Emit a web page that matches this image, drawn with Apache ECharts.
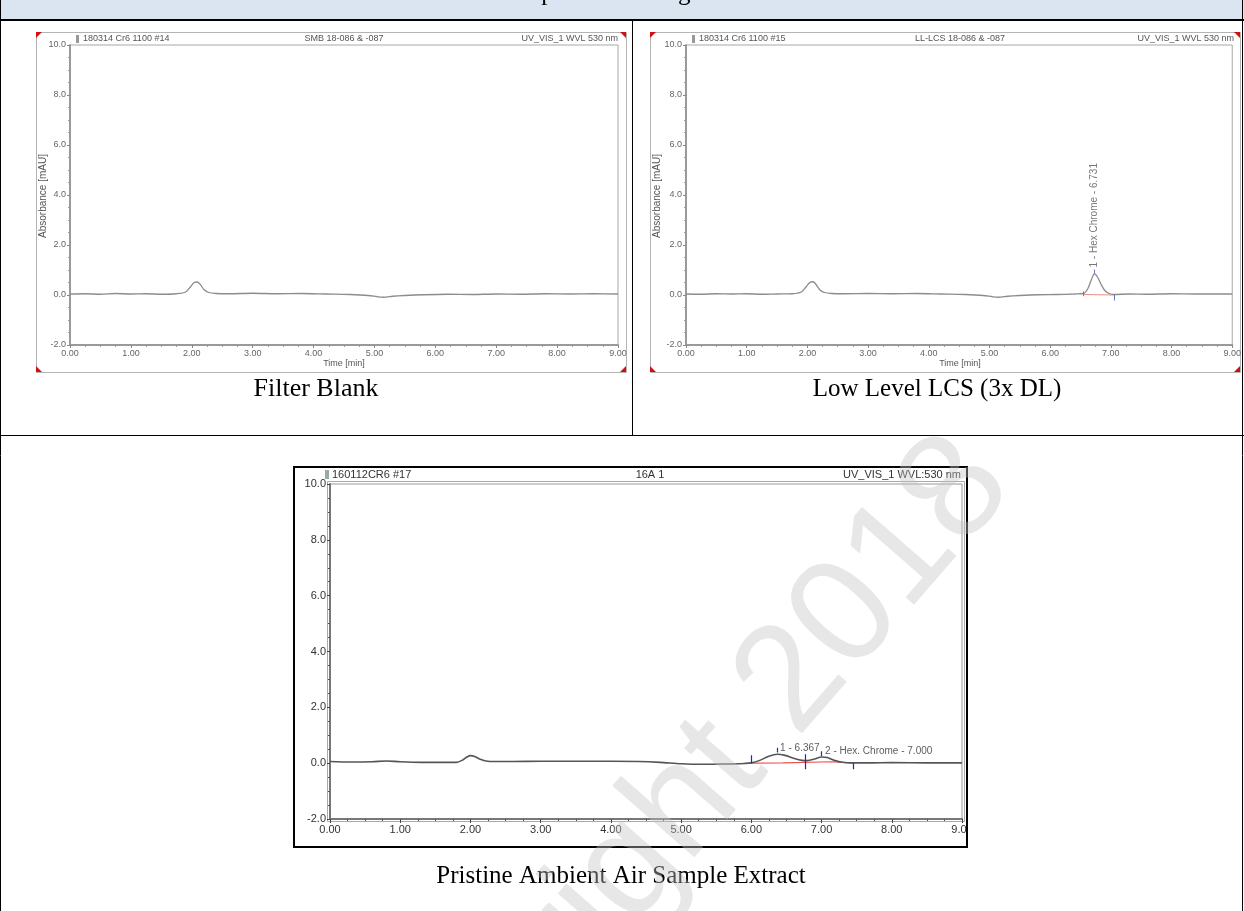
<!DOCTYPE html>
<html><head><meta charset="utf-8">
<script src="https://cdn.jsdelivr.net/npm/echarts@6/dist/echarts.min.js"></script>
<style>html,body{margin:0;padding:0;background:#fff}#c{width:1244px;height:911px}</style>
</head><body><div id="c"></div>
<script>
// ---------- data ----------
var timeTicks = [0,1,2,3,4,5,6,7,8,9];
var absTicks = [-2,0,2,4,6,8,10];

var blankTime = [0.00,0.25,0.50,0.75,1.00,1.25,1.50,1.75,1.90,1.98,2.04,2.09,2.14,2.20,2.28,2.40,2.60,3.00,3.40,3.80,4.20,4.60,4.90,5.05,5.15,5.30,5.50,5.80,6.20,6.60,7.00,7.40,7.80,8.20,8.60,9.00];
var blankAbs  = [0.04,0.05,0.03,0.06,0.04,0.05,0.03,0.05,0.12,0.33,0.50,0.52,0.42,0.22,0.10,0.06,0.05,0.07,0.05,0.06,0.04,0.02,-0.02,-0.07,-0.09,-0.05,-0.02,0.01,0.03,0.02,0.04,0.03,0.05,0.04,0.05,0.04];

var lcsTime = [0.00,0.25,0.50,0.75,1.00,1.25,1.50,1.75,1.90,1.98,2.04,2.09,2.14,2.20,2.28,2.40,2.60,3.00,3.40,3.80,4.20,4.60,4.90,5.05,5.15,5.30,5.50,5.80,6.10,6.40,6.55,6.62,6.68,6.73,6.78,6.84,6.90,6.97,7.05,7.30,7.60,8.00,8.40,8.80,9.00];
var lcsAbs  = [0.04,0.03,0.05,0.04,0.05,0.03,0.04,0.05,0.12,0.33,0.50,0.53,0.43,0.22,0.10,0.06,0.05,0.06,0.05,0.06,0.04,0.02,-0.02,-0.07,-0.09,-0.05,-0.02,0.01,0.02,0.04,0.06,0.25,0.62,0.85,0.72,0.42,0.18,0.06,0.02,0.04,0.03,0.05,0.04,0.04,0.04];
var lcsMarkTime = [6.55,6.73,7.05];
var lcsMarkLow  = [-0.05,0.88,-0.22];
var lcsMarkHigh = [0.15,1.02,0.00];
var lcsBaseTime = [6.55,7.05];
var lcsBaseAbs  = [0.02,0.00];
var lcsPeakName = '1 - Hex Chrome - 6.731';
var lcsPeakPos  = [6.731,1.10];

var sampleTime = [0.00,0.30,0.60,0.80,1.00,1.30,1.60,1.80,1.88,1.95,2.00,2.06,2.13,2.22,2.35,2.60,3.00,3.50,4.00,4.40,4.70,5.00,5.30,5.60,5.90,6.00,6.12,6.25,6.37,6.48,6.60,6.72,6.80,6.90,7.00,7.08,7.18,7.30,7.45,7.70,8.00,8.50,9.00];
var sampleAbs  = [0.06,0.04,0.05,0.08,0.05,0.03,0.03,0.03,0.10,0.22,0.27,0.24,0.15,0.08,0.06,0.06,0.07,0.07,0.07,0.06,0.03,-0.02,-0.04,-0.03,-0.01,0.01,0.10,0.25,0.32,0.28,0.18,0.10,0.09,0.15,0.22,0.20,0.10,0.03,0.01,0.01,0.02,0.01,0.01];
var sampleMarkTime = [6.00,6.37,6.77,7.00,7.45];
var sampleMarkLow  = [0.00,0.38,-0.22,0.26,-0.22];
var sampleMarkHigh = [0.28,0.55,0.32,0.43,0.00];
var sampleBaseTime = [6.00,6.45,6.45,7.15,7.15,7.45];
var sampleBaseAbs  = [0.00,0.01,0.05,0.05,0.01,0.00];
var samplePeakNames = ['1 - 6.367','2 - Hex. Chrome - 7.000'];
var samplePeakPos   = [[6.41,0.52],[7.05,0.42]];

var headers = [
  ['180314 Cr6 1100 #14','SMB 18-086 & -087','UV_VIS_1 WVL 530 nm'],
  ['180314 Cr6 1100 #15','LL-LCS 18-086 & -087','UV_VIS_1 WVL 530 nm'],
  ['160112CR6 #17','16A 1','UV_VIS_1 WVL:530 nm']
];
var captions = ['Filter Blank','Low Level LCS (3x DL)','Pristine Ambient Air Sample Extract'];
var tableTitle = 'Example Chromatograms';
var yTitle = 'Absorbance [mAU]';
var xTitle = 'Time [min]';
var watermark = 'Copyright 2018';

// ---------- helpers ----------
function pairs(a,b){return a.map(function(v,i){return [v,b[i]];});}
function segs(t,lo,hi){return t.map(function(v,i){return {coords:[[v,lo[i]],[v,hi[i]]]};});}

var grids = [
  {left:70, top:45, width:548, height:300},
  {left:686, top:45, width:548, height:300},
  {left:330, top:484, width:632, height:335}
];
var small = [true,true,false];

function xAx(i){
  var s = small[i];
  return {gridIndex:i, type:'value', min:timeTicks[0], max:timeTicks[timeTicks.length-1], interval:1,
    axisLine:{show:true, onZero:false, lineStyle:{color:s?'#9a9a9a':'#777', width:2}},
    axisTick:{show:true, length:s?3:4, lineStyle:{color:s?'#888':'#444'}},
    minorTick:{show:true, splitNumber:4, length:2, lineStyle:{color:s?'#999':'#555'}},
    splitLine:{show:false},
    axisLabel:{fontSize:s?9:11, color:s?'#666':'#333', fontFamily:'Liberation Sans', margin:s?4:5,
      formatter:function(v){return v.toFixed(2);}}};
}
function yAx(i){
  var s = small[i];
  return {gridIndex:i, type:'value', min:absTicks[0], max:absTicks[absTicks.length-1], interval:2,
    axisLine:{show:true, onZero:false, lineStyle:{color:s?'#9a9a9a':'#777', width:2}},
    axisTick:{show:true, length:3, lineStyle:{color:s?'#888':'#444'}},
    minorTick:{show:true, splitNumber:4, length:2, lineStyle:{color:s?'#999':'#555'}},
    splitLine:{show:false},
    axisLabel:{fontSize:s?9:11, color:s?'#666':'#333', fontFamily:'Liberation Sans', margin:4,
      formatter:function(v){return v.toFixed(1);}}};
}

var series = [
  {type:'line', xAxisIndex:0, yAxisIndex:0, data:pairs(blankTime,blankAbs), showSymbol:false, smooth:0.3,
    lineStyle:{color:'#8c8c8c', width:1.3}, z:3},
  {type:'line', xAxisIndex:1, yAxisIndex:1, data:pairs(lcsTime,lcsAbs), showSymbol:false, smooth:0.3,
    lineStyle:{color:'#8c8c8c', width:1.3}, z:3},
  {type:'line', xAxisIndex:1, yAxisIndex:1, data:pairs(lcsBaseTime,lcsBaseAbs), showSymbol:false,
    lineStyle:{color:'#f28b8b', width:1}, z:2},
  {type:'lines', coordinateSystem:'cartesian2d', xAxisIndex:1, yAxisIndex:1, data:segs(lcsMarkTime,lcsMarkLow,lcsMarkHigh),
    lineStyle:{color:'#7070d8', width:1, opacity:1}, z:4},
  {type:'scatter', xAxisIndex:1, yAxisIndex:1, data:[lcsPeakPos], symbolSize:0,
    label:{show:true, formatter:lcsPeakName, rotate:90, position:'inside', align:'left', verticalAlign:'middle',
      fontSize:10, color:'#555', fontFamily:'Liberation Sans'}, z:5},
  {type:'line', xAxisIndex:2, yAxisIndex:2, data:pairs(sampleTime,sampleAbs), showSymbol:false, smooth:0.3,
    lineStyle:{color:'#555', width:1.6}, z:3},
  {type:'line', xAxisIndex:2, yAxisIndex:2, data:pairs(sampleBaseTime,sampleBaseAbs), showSymbol:false,
    lineStyle:{color:'#f05050', width:1.2}, z:2},
  {type:'lines', coordinateSystem:'cartesian2d', xAxisIndex:2, yAxisIndex:2, data:segs(sampleMarkTime,sampleMarkLow,sampleMarkHigh),
    lineStyle:{color:'#2020e0', width:1.2, opacity:1}, z:4},
  {type:'scatter', xAxisIndex:2, yAxisIndex:2, symbolSize:0,
    data:samplePeakPos.map(function(p,i){return {value:p, name:samplePeakNames[i]};}),
    label:{show:true, formatter:'{b}', position:'inside', align:'left', verticalAlign:'middle',
      fontSize:10, color:'#333', fontFamily:'Liberation Sans'}, z:5}
];

// ---------- decorations ----------
var els = [];
// table
els.push({type:'rect', shape:{x:0,y:0,width:1244,height:19}, style:{fill:'#dbe5f1'}, z:0});
els.push({type:'text', x:611, y:-7, style:{text:tableTitle, font:'25px "Liberation Serif"', fill:'#000', textAlign:'center', textVerticalAlign:'middle'}, z:1});
els.push({type:'line', shape:{x1:0,y1:20,x2:1244,y2:20}, style:{stroke:'#000', lineWidth:2}});
els.push({type:'line', shape:{x1:0.5,y1:0,x2:0.5,y2:911}, style:{stroke:'#000', lineWidth:1}});
els.push({type:'line', shape:{x1:1242.5,y1:0,x2:1242.5,y2:911}, style:{stroke:'#000', lineWidth:1}});
els.push({type:'line', shape:{x1:632.5,y1:20,x2:632.5,y2:435}, style:{stroke:'#000', lineWidth:1}});
els.push({type:'line', shape:{x1:0,y1:435.5,x2:1244,y2:435.5}, style:{stroke:'#000', lineWidth:1}});
// top chart frames
[[36,32,590,340],[650,32,590,340]].forEach(function(f,k){
  var x=f[0], y=f[1], w=f[2], h=f[3];
  els.push({type:'rect', shape:{x:x+0.5,y:y+0.5,width:w,height:h}, style:{fill:'none', stroke:'#b4b4b4', lineWidth:1}});
  var c = 6;
  els.push({type:'polygon', shape:{points:[[x,y],[x+c,y],[x,y+c]]}, style:{fill:'#d01010'}});
  els.push({type:'polygon', shape:{points:[[x+w,y],[x+w-c,y],[x+w,y+c]]}, style:{fill:'#d01010'}});
  els.push({type:'polygon', shape:{points:[[x,y+h],[x+c,y+h],[x,y+h-c]]}, style:{fill:'#d01010'}});
  els.push({type:'polygon', shape:{points:[[x+w,y+h],[x+w-c,y+h],[x+w,y+h-c]]}, style:{fill:'#d01010'}});
  var g = grids[k];
  els.push({type:'rect', shape:{x:g.left+6,y:35,width:3,height:8}, style:{fill:'#999'}});
  els.push({type:'text', x:g.left+13, y:39, style:{text:headers[k][0], font:'9px "Liberation Sans"', fill:'#555', textAlign:'left', textVerticalAlign:'middle'}});
  els.push({type:'text', x:g.left+g.width/2, y:39, style:{text:headers[k][1], font:'9px "Liberation Sans"', fill:'#555', textAlign:'center', textVerticalAlign:'middle'}});
  els.push({type:'text', x:g.left+g.width, y:39, style:{text:headers[k][2], font:'9px "Liberation Sans"', fill:'#555', textAlign:'right', textVerticalAlign:'middle'}});
  els.push({type:'text', x:x+7, y:196, rotation:Math.PI/2, style:{text:yTitle, font:'10px "Liberation Sans"', fill:'#555', textAlign:'center', textVerticalAlign:'middle'}});
  els.push({type:'text', x:g.left+g.width/2, y:364, style:{text:xTitle, font:'9px "Liberation Sans"', fill:'#555', textAlign:'center', textVerticalAlign:'middle'}});
});
// bottom frame
els.push({type:'rect', shape:{x:327.5,y:481.5,width:637,height:340}, style:{fill:'none', stroke:'#aaa', lineWidth:1}});
els.push({type:'rect', shape:{x:968,y:820,width:20,height:28}, style:{fill:'#fff'}, z:50});
els.push({type:'rect', shape:{x:294,y:467,width:673,height:380}, style:{fill:'none', stroke:'#000', lineWidth:2}, z:51});
els.push({type:'rect', shape:{x:325,y:470,width:4,height:9}, style:{fill:'#9aa'}});
els.push({type:'text', x:332, y:475, style:{text:headers[2][0], font:'11px "Liberation Sans"', fill:'#333', textAlign:'left', textVerticalAlign:'middle'}});
els.push({type:'text', x:650, y:475, style:{text:headers[2][1], font:'11px "Liberation Sans"', fill:'#333', textAlign:'center', textVerticalAlign:'middle'}});
els.push({type:'text', x:961, y:475, style:{text:headers[2][2], font:'11px "Liberation Sans"', fill:'#333', textAlign:'right', textVerticalAlign:'middle'}});
// captions
els.push({type:'text', x:316, y:389, style:{text:captions[0], font:'26px "Liberation Serif"', fill:'#000', textAlign:'center', textVerticalAlign:'middle'}});
els.push({type:'text', x:937, y:389, style:{text:captions[1], font:'25px "Liberation Serif"', fill:'#000', textAlign:'center', textVerticalAlign:'middle'}});
els.push({type:'text', x:621, y:876, style:{text:captions[2], font:'25px "Liberation Serif"', fill:'#000', textAlign:'center', textVerticalAlign:'middle'}});
// watermark
els.push({type:'text', x:651, y:844, rotation:49*Math.PI/180, style:{text:watermark, font:'150px "Liberation Sans"', fill:'rgba(195,195,195,0.4)', textAlign:'center', textVerticalAlign:'middle'}, z:100});

var chart = echarts.init(document.getElementById('c'), null, {renderer:'canvas'});
chart.setOption({
  backgroundColor:'#fff',
  animation:false,
  grid: grids.map(function(g,i){return Object.assign({show:true, borderColor:i<2?'#a8a8a8':'#999', borderWidth:1, backgroundColor:'#fff'}, g);}),
  xAxis:[xAx(0),xAx(1),xAx(2)],
  yAxis:[yAx(0),yAx(1),yAx(2)],
  series: series,
  graphic:{elements:els}
});
</script></body></html>
